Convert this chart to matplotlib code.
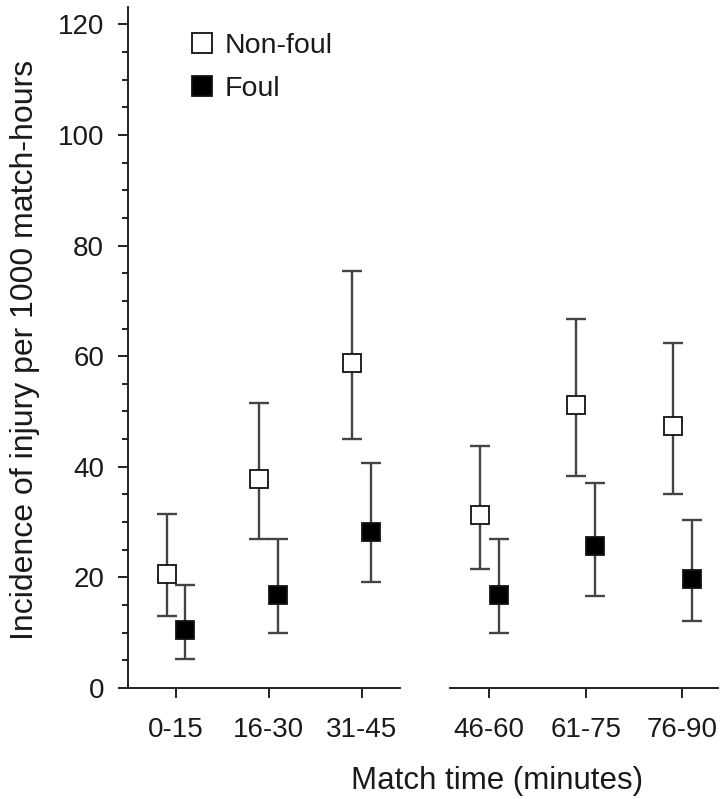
import numpy as np
import matplotlib
matplotlib.use('Agg')
import matplotlib.pyplot as plt
from matplotlib.lines import Line2D
from matplotlib.ticker import MultipleLocator

# Injury incidence per 1000 match-hours, by 15-minute period (first half, second half)
first_half = ['0-15', '16-30', '31-45']
second_half = ['46-60', '61-75', '76-90']

nonfoul_rate = [20.7, 37.8, 58.7, 31.2, 51.2, 47.3]
nonfoul_upper = [31.5, 51.5, 75.4, 43.8, 66.7, 62.4]
nonfoul_lower = [13.1, 27.0, 45.0, 21.5, 38.3, 35.0]

foul_rate = [10.4, 16.9, 28.3, 16.9, 25.6, 19.7]
foul_upper = [18.6, 26.9, 40.6, 26.9, 37.1, 30.4]
foul_lower = [5.2, 10.0, 19.1, 10.0, 16.7, 12.2]

plt.rcParams['font.family'] = ['Liberation Sans', 'DejaVu Sans']
plt.rcParams['text.color'] = '#1a1a1a'
plt.rcParams['xtick.labelcolor'] = '#1a1a1a'
plt.rcParams['ytick.labelcolor'] = '#1a1a1a'

AXIS_COLOR = '#222222'
BAR_COLOR = '#444444'
TICK_FS = 20
OFFSET = 0.1


def style_axes(ax, show_left):
    ax.set_ylim(0, 123.2)
    for side in ['top', 'right']:
        ax.spines[side].set_visible(False)
    ax.spines['bottom'].set_linewidth(1.4)
    ax.spines['bottom'].set_color(AXIS_COLOR)
    ax.tick_params(axis='x', direction='out', length=7.2, width=1.4,
                   color=AXIS_COLOR, labelsize=TICK_FS, pad=14)
    if show_left:
        ax.spines['left'].set_linewidth(1.4)
        ax.spines['left'].set_color(AXIS_COLOR)
        ax.yaxis.set_major_locator(MultipleLocator(20))
        ax.yaxis.set_minor_locator(MultipleLocator(5))
        ax.tick_params(axis='y', which='major', direction='out', length=7.2,
                       width=1.4, color=AXIS_COLOR, labelsize=TICK_FS, pad=10)
        ax.tick_params(axis='y', which='minor', direction='out', length=4.3,
                       width=1.4, color=AXIS_COLOR)
    else:
        ax.spines['left'].set_visible(False)
        ax.tick_params(axis='y', which='both', left=False, labelleft=False)


def draw_half(ax, labels, sl):
    x = np.arange(len(labels))
    series = [
        (nonfoul_rate, nonfoul_lower, nonfoul_upper, -OFFSET, 'white'),
        (foul_rate, foul_lower, foul_upper, OFFSET, 'black'),
    ]
    for rate, lower, upper, dx, face in series:
        r = np.array(rate[sl])
        err = [r - np.array(lower[sl]), np.array(upper[sl]) - r]
        ax.errorbar(x + dx, r, yerr=err, fmt='none', ecolor=BAR_COLOR,
                    elinewidth=1.7, capsize=7.5, capthick=1.7, zorder=2)
        ax.plot(x + dx, r, linestyle='none', marker='s', markersize=12.3,
                markerfacecolor=face, markeredgecolor='#111111',
                markeredgewidth=1.3, zorder=3)
    ax.set_xticks(x)
    ax.set_xticklabels(labels)


W, H = 721, 799
fig = plt.figure(figsize=(W / 100, H / 100), dpi=100)

bottom = (H - 688) / H
height = (688 - 6.7) / H
ax1 = fig.add_axes([128 / W, bottom, (400 - 128) / W, height])
ax2 = fig.add_axes([450 / W, bottom, (718 - 450) / W, height])

draw_half(ax1, first_half, slice(0, 3))
draw_half(ax2, second_half, slice(3, 6))
ax1.set_xlim(-0.516, 2.414)
ax2.set_xlim(-0.407, 2.37)
style_axes(ax1, True)
style_axes(ax2, False)

handles = [
    Line2D([], [], linestyle='none', marker='s', markersize=14.5,
           markerfacecolor='white', markeredgecolor='#111111', markeredgewidth=1.3),
    Line2D([], [], linestyle='none', marker='s', markersize=14.5,
           markerfacecolor='black', markeredgecolor='#111111', markeredgewidth=1.3),
]
ax1.legend(handles, ['Non-foul', 'Foul'], loc='upper left',
           bbox_to_anchor=((188 - 128) / (400 - 128), (688 - 33) / (688 - 6.7)),
           frameon=False, fontsize=20.5, handlelength=1.0, handletextpad=0.3,
           labelspacing=0.6, borderpad=0, borderaxespad=0)

fig.text(497.5 / W, 1 - 789 / H, 'Match time (minutes)', ha='center',
         va='baseline', fontsize=22.5)
fig.text(25 / W, 1 - 350 / H, 'Incidence of injury per 1000 match-hours',
         rotation=90, ha='center', va='center', fontsize=23)

fig.savefig('out.png', dpi=100)
